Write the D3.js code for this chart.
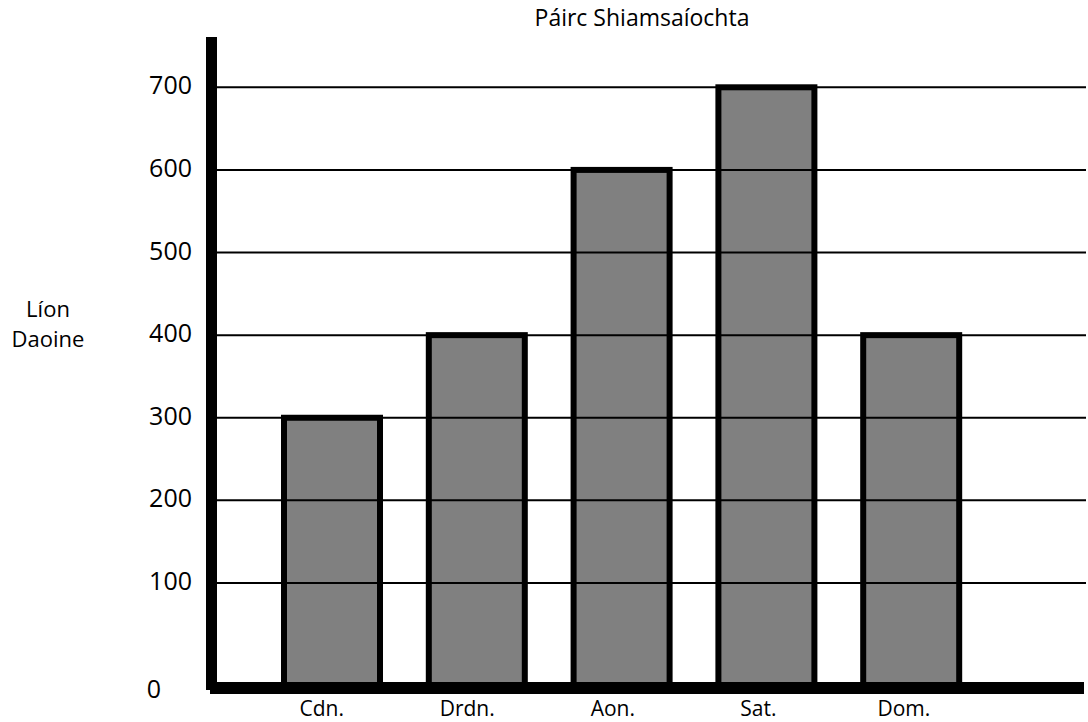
<!DOCTYPE html>
<html>
<head>
<meta charset="utf-8">
<script src="https://cdn.jsdelivr.net/npm/d3@7"></script>
<style>
  html, body { margin: 0; padding: 0; background: #fff; }
  svg { display: block; }
  text { font-family: "Open Sans", "Liberation Sans", sans-serif; fill: #000; }
</style>
</head>
<body>
<svg id="chart" width="1088" height="722"></svg>
<script>
// Data
const categories = ["Cdn.", "Drdn.", "Aon.", "Sat.", "Dom."];
const values = [300, 400, 600, 700, 400];
const yTicks = [100, 200, 300, 400, 500, 600, 700];
const zeroLabel = "0";
const title = "Páirc Shiamsaíochta";
const yTitle = ["Líon", "Daoine"];

const svg = d3.select("#chart");

// Layout
const axisX = 211.5;     // centre of thick y axis
const baseY = 688;       // centre of thick x axis
const gridLeft = 217, gridRight = 1086;

const y = d3.scaleLinear().domain([0, 700]).range([665.6, 87.3]);
const x = d3.scaleBand().domain(categories).range([259.6, 983.6])
  .paddingInner(0.2956).paddingOuter(0.1478);
const xLabel = d3.scalePoint().domain(categories).range([321.7, 903.9]);

const sw = 6;

// Bars
svg.append("g").selectAll("rect").data(values).join("rect")
  .attr("x", (d, i) => x(categories[i]) + sw / 2)
  .attr("width", x.bandwidth() - sw)
  .attr("y", d => y(d))
  .attr("height", d => baseY - y(d))
  .attr("fill", "#808080")
  .attr("stroke", "#000")
  .attr("stroke-width", sw);

// Gridlines
svg.append("g").selectAll("line").data(yTicks).join("line")
  .attr("x1", gridLeft).attr("x2", gridRight)
  .attr("y1", d => y(d)).attr("y2", d => y(d))
  .attr("stroke", "#000").attr("stroke-width", 2);

// Axes (thick lines)
svg.append("line")
  .attr("x1", axisX).attr("x2", axisX)
  .attr("y1", 37).attr("y2", 690)
  .attr("stroke", "#000").attr("stroke-width", 11);
svg.append("line")
  .attr("x1", 210).attr("x2", 1084)
  .attr("y1", baseY).attr("y2", baseY)
  .attr("stroke", "#000").attr("stroke-width", 12);

// Y tick labels
svg.append("g").selectAll("text").data(yTicks).join("text")
  .attr("x", 192).attr("y", d => y(d) + 7)
  .attr("text-anchor", "end")
  .attr("font-size", 25)
  .text(d => d);
svg.append("text")
  .attr("x", 161).attr("y", baseY + 10)
  .attr("text-anchor", "end")
  .attr("font-size", 25)
  .text(zeroLabel);

// X category labels
svg.append("g").selectAll("text").data(categories).join("text")
  .attr("x", d => xLabel(d)).attr("y", 716)
  .attr("text-anchor", "middle")
  .attr("font-size", 21)
  .text(d => d);

// Title
svg.append("text")
  .attr("x", 642).attr("y", 26)
  .attr("text-anchor", "middle")
  .attr("font-size", 23)
  .text(title);

// Y axis title
svg.append("g").selectAll("text").data(yTitle).join("text")
  .attr("x", 48).attr("y", (d, i) => 316.7 + i * 30)
  .attr("text-anchor", "middle")
  .attr("font-size", 22)
  .text(d => d);
</script>
</body>
</html>
